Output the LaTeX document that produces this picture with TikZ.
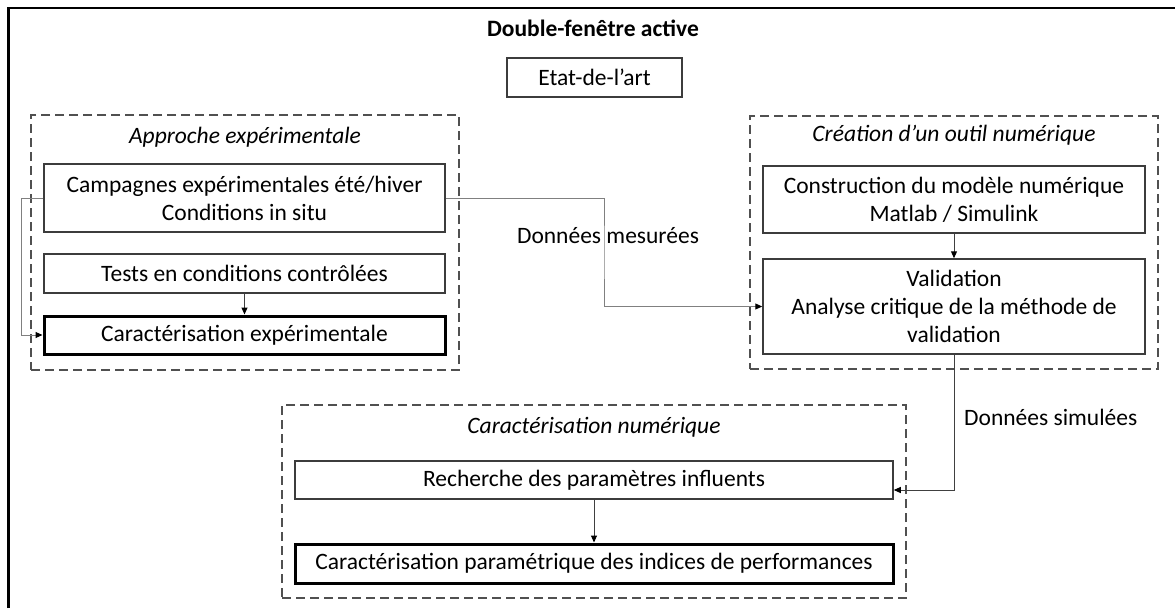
\documentclass[tikz,border=0pt]{standalone}
\usepackage{fontspec}
\setmainfont{Carlito}
\usetikzlibrary{arrows.meta,calc}
\definecolor{boxgray}{HTML}{3C3C3C}
\definecolor{dashgray}{HTML}{505050}
\definecolor{lightline}{HTML}{808080}
\definecolor{darkline}{HTML}{404040}
\begin{document}
\begin{tikzpicture}[x=1pt,y=-1pt,
 every node/.style={font=\fontsize{23.5}{28}\selectfont, inner sep=0pt, align=center},
 box/.style={draw=boxgray, line width=1.5pt, fill=white},
 thickbox/.style={draw=black, line width=3pt, fill=white},
 group/.style={draw=dashgray, line width=1.5pt, dash pattern=on 9pt off 5pt},
 tip/.style={-{Triangle[length=7pt,width=6pt,color=black]}},
 connlight/.style={draw=lightline, line width=1pt},
 conndark/.style={draw=darkline, line width=1pt},
]
\useasboundingbox (0,0) rectangle (1175,608);
% outer frame (only top and left visible)
\draw[line width=2.5pt] (8.5,608) -- (8.5,8) -- (1175,8);

% title and state of the art
\node[font=\fontsize{23.5}{28}\selectfont\bfseries] (title) at (593,28) {Double-fenêtre active};
\node[box, minimum width=175pt, minimum height=39pt] (etat) at (594.5,77.5) {Etat-de-l'art};

% groups
\node[group, minimum width=428pt, minimum height=255pt] (grpA) at (245,242.5) {};
\node[font=\fontsize{23.5}{28}\selectfont\itshape] (lblA) at (245,137) {Approche expérimentale};
\node[group, minimum width=408pt, minimum height=253pt] (grpB) at (954,242.5) {};
\node[font=\fontsize{23.5}{28}\selectfont\itshape] (lblB) at (954,135) {Création d’un outil numérique};
\node[group, minimum width=624pt, minimum height=193pt] (grpC) at (594,501.5) {};
\node[font=\fontsize{23.5}{28}\selectfont\itshape] (lblC) at (594,427) {Caractérisation numérique};

% experimental boxes
\node[box, minimum width=401pt, minimum height=68pt] (c1) at (244.5,198) {Campagnes expérimentales été/hiver\\Conditions in situ};
\node[box, minimum width=401pt, minimum height=39pt] (c2) at (244.5,273.5) {Tests en conditions contrôlées};
\node[thickbox, minimum width=401pt, minimum height=38pt] (c3) at (244.5,335) {Caractérisation expérimentale};

% numerical tool boxes
\node[box, minimum width=382pt, minimum height=67pt] (cons) at (954,199.5) {Construction du modèle numérique\\Matlab / Simulink};
\node[box, minimum width=382pt, minimum height=95pt] (val) at (954,306.5) {Validation\\Analyse critique de la méthode de\\validation};

% numerical characterisation boxes
\node[box, minimum width=598pt, minimum height=38pt] (rech) at (594,480) {Recherche des paramètres influents};
\node[thickbox, minimum width=598pt, minimum height=39pt] (cpar) at (594,563.5) {Caractérisation paramétrique des indices de performances};

% connectors
\draw[connlight, tip] (c1.west) -- ++(-22,0) |- (c3.west);
\draw[conndark, tip] (c2.south) -- (c3.north);
\draw[connlight, tip] (c1.east) -| ($(c1.east)!0.5!(val.west)$) |- (val.west);
\draw[conndark, tip] (cons.south) -- (val.north);
\draw[conndark, tip] (val.south) |- ([yshift=-10pt]rech.east);
\draw[conndark, tip] (rech.south) -- (rech.south |- cpar.north);

% connector labels
\node (lblMes) at (608,236) {Données mesurées};
\node[anchor=west] (lblSim) at (964,417) {Données simulées};
\end{tikzpicture}
\end{document}
